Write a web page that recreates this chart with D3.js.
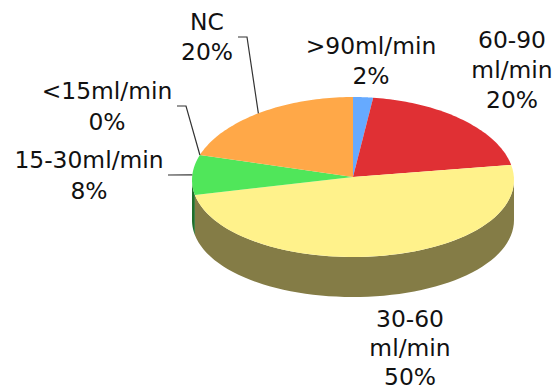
<!DOCTYPE html>
<html>
<head>
<meta charset="utf-8">
<script src="https://cdnjs.cloudflare.com/ajax/libs/d3/7.8.5/d3.min.js"></script>
<style>
  html, body { margin: 0; padding: 0; background: #fff; }
  svg { display: block; }
  text { font-family: "DejaVu Sans", sans-serif; font-size: 23.4px; fill: #111; }
</style>
</head>
<body>
<div id="chart"></div>
<script>
const categories = [">90ml/min", "60-90ml/min", "30-60ml/min", "15-30ml/min", "<15ml/min", "NC"];
const values = [2, 20, 50, 8, 0, 20];
const topColors = ["#66aaff", "#e03034", "#fff28b", "#50e65a", "#2f7d32", "#ffa848"];
const sideColors = ["#335580", "#70181a", "#847c46", "#1f6f2b", "#173e19", "#805424"];

const width = 556;
const height = 389;
const cx = 353;
const cy = 177;
const rx = 161;
const ry = 80;
const depth = 40;
const sag = 3; // perspective: the rim sits a little lower at the sides

// label layout, one entry per category
const labelLines = [[">90ml/min", "2%"], ["60-90", "ml/min", "20%"], ["30-60", "ml/min", "50%"], ["15-30ml/min", "8%"], ["<15ml/min", "0%"], ["NC", "20%"]];
const labelX = [371, 512, 410, 89, 107, 207];
const labelY = [54, 48, 327, 168, 99, 30];
const lineHeights = [30, 30, 29, 30.5, 30.5, 30];
const leaderStart = [null, null, null, [168, 175], [177, 106], [238, 37]];
const leaderElbow = [null, null, null, [168, 175], [186, 106], [247, 37]];

const pie = d3.pie().sort(null).value((d) => d);
const slices = pie(values);

const px = (a) => rx * Math.sin(a);
const py = (a) => -ry * Math.cos(a) + sag * Math.sin(a) ** 2;
const sweep = (a0, a1) => d3.range(0, 61).map((k) => a0 + ((a1 - a0) * k) / 60);

const svg = d3.select("#chart").append("svg").attr("width", width).attr("height", height);
const chart = svg.append("g").attr("transform", `translate(${cx},${cy})`);

// side wall, only the front half of the rim shows
const wall = d3
  .area()
  .x((a) => px(a))
  .y0((a) => py(a))
  .y1((a) => py(a) + depth);

chart
  .selectAll("path.side")
  .data(slices)
  .join("path")
  .attr("class", "side")
  .attr("fill", (d, i) => sideColors[i])
  .attr("d", (d) => {
    const a0 = Math.max(d.startAngle, Math.PI / 2);
    const a1 = Math.min(d.endAngle, (3 * Math.PI) / 2);
    return a1 > a0 ? wall(sweep(a0, a1)) : null;
  });

// top face: apex plus projected rim
const rim = d3.line();

chart
  .selectAll("path.top")
  .data(slices)
  .join("path")
  .attr("class", "top")
  .attr("fill", (d, i) => topColors[i])
  .attr("d", (d) => rim([[0, 0], ...sweep(d.startAngle, d.endAngle).map((a) => [px(a), py(a)])]) + "Z");

// leader lines run to the middle of the slice on the rim
const leader = d3.line();
slices.forEach((d, i) => {
  if (!leaderStart[i]) return;
  const mid = (d.startAngle + d.endAngle) / 2;
  svg
    .append("path")
    .attr("fill", "none")
    .attr("stroke", "#333")
    .attr("stroke-width", 1.2)
    .attr("d", leader([leaderStart[i], leaderElbow[i], [cx + px(mid), cy + py(mid)]]));
});

const labels = svg
  .selectAll("text.label")
  .data(categories)
  .join("text")
  .attr("class", "label")
  .attr("text-anchor", "middle");

labels
  .selectAll("tspan")
  .data((d, i) => labelLines[i].map((t, k) => ({ t, k, i })))
  .join("tspan")
  .attr("x", (d) => labelX[d.i])
  .attr("y", (d) => labelY[d.i] + d.k * lineHeights[d.i])
  .text((d) => d.t);
</script>
</body>
</html>
